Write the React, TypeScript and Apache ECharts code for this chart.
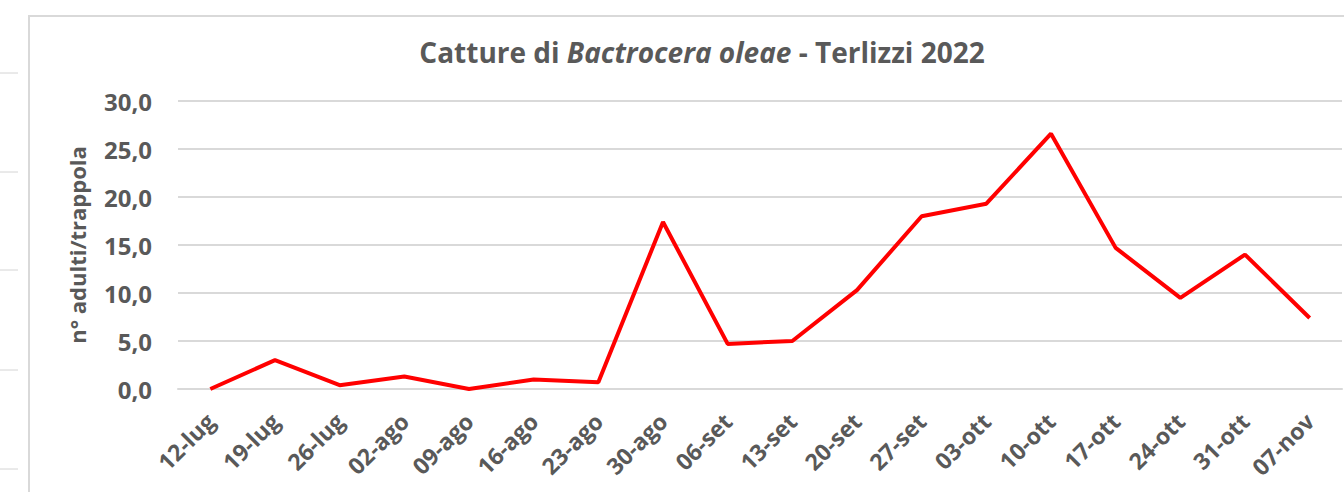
import React, { useEffect, useRef } from "react";
import * as echarts from "echarts";

const categories = [
  "12-lug", "19-lug", "26-lug", "02-ago", "09-ago", "16-ago", "23-ago", "30-ago",
  "06-set", "13-set", "20-set", "27-set", "03-ott", "10-ott", "17-ott", "24-ott",
  "31-ott", "07-nov",
];
const catture = [
  0.0, 3.0, 0.4, 1.3, 0.0, 1.0, 0.7, 17.4,
  4.7, 5.0, 10.3, 18.0, 19.3, 26.6, 14.7, 9.5,
  14.0, 7.4,
];
const yMin = 0;
const yMax = 30;
const yStep = 5;

const FONT = "'Open Sans', sans-serif";
const GREY = "#595959";

export default function App() {
  const ref = useRef<HTMLDivElement>(null);
  useEffect(() => {
    if (!ref.current) return;
    const chart = echarts.init(ref.current, undefined, { renderer: "svg" });
    const sideLines = [73, 172, 270, 370, 469].map((y) => ({
      type: "line",
      shape: { x1: 0, y1: y, x2: 18, y2: y },
      style: { stroke: "#d4d4d4", lineWidth: 1 },
      silent: true,
    }));
    chart.setOption({
      animation: false,
      backgroundColor: "#ffffff",
      title: {
        text: "{b|Catture di }{i|Bactrocera oleae}{b| - Terlizzi 2022}",
        left: 697,
        textAlign: "center",
        top: 33,
        textStyle: {
          rich: {
            b: { fontFamily: FONT, fontWeight: "bold", fontSize: 28, color: GREY },
            i: { fontFamily: FONT, fontWeight: "bold", fontStyle: "italic", fontSize: 28, color: GREY },
          },
        },
      },
      graphic: [
        ...sideLines,
        {
          type: "polyline",
          shape: { points: [[29, 492], [29, 16], [1344, 16]] },
          style: { stroke: "#d9d9d9", lineWidth: 2, fill: "none" },
          silent: true,
        },
      ],
      grid: { left: 178, right: 2, top: 101, bottom: 103 },
      xAxis: {
        type: "category",
        data: categories,
        boundaryGap: true,
        axisLine: { show: true, lineStyle: { color: "#d9d9d9", width: 2 } },
        axisTick: { show: false },
        axisLabel: {
          rotate: 45,
          margin: 28,
          interval: 0,
          padding: [10, 0, 0, 0],
          fontFamily: FONT,
          fontWeight: "bold",
          fontSize: 23,
          color: GREY,
        },
      },
      yAxis: {
        type: "value",
        min: yMin,
        max: yMax,
        interval: yStep,
        name: "n° adulti/trappola",
        nameLocation: "middle",
        nameRotate: 90,
        nameGap: 90,
        nameTextStyle: { fontFamily: FONT, fontWeight: "bold", fontSize: 22, color: GREY },
        axisLine: { show: false },
        axisTick: { show: false },
        splitLine: { lineStyle: { color: "#d9d9d9", width: 2 } },
        axisLabel: {
          margin: 26,
          fontFamily: FONT,
          fontWeight: "bold",
          fontSize: 24,
          color: GREY,
          formatter: (v: number) => v.toFixed(1).replace(".", ","),
        },
      },
      series: [
        {
          type: "line",
          data: catture,
          symbol: "none",
          lineStyle: { color: "#ff0000", width: 4 },
          itemStyle: { color: "#ff0000" },
        },
      ],
    });
    return () => chart.dispose();
  }, []);
  return (
    <div
      ref={ref}
      style={{ position: "fixed", left: 0, top: 0, width: 1344, height: 492, background: "#fff" }}
    />
  );
}
